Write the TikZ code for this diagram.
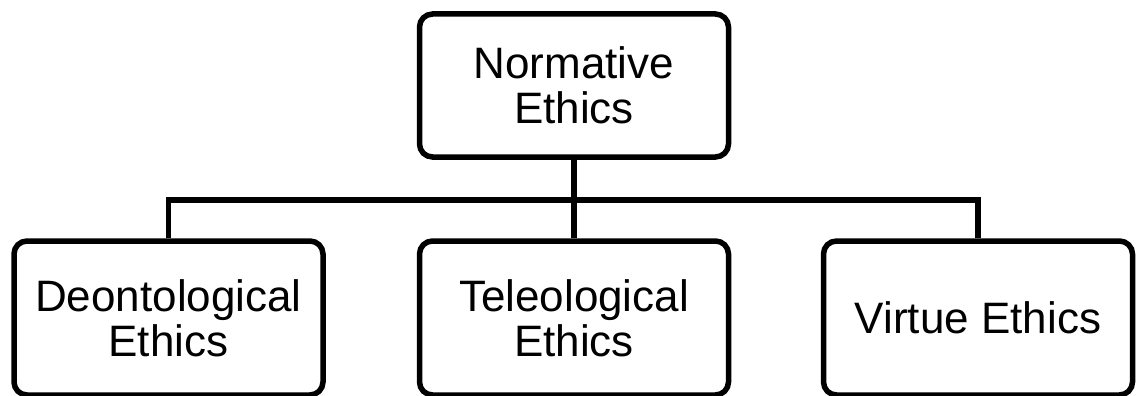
\documentclass[tikz,border=0pt]{standalone}
\usepackage{fontspec}
\setmainfont{Liberation Sans}
\begin{document}
\begin{tikzpicture}[x=1pt,y=-1pt,
  box/.style={draw, line width=5.5pt, rounded corners=13pt, inner sep=0pt, align=center,
    font=\fontsize{44}{45}\selectfont, minimum width=309pt},
  conn/.style={line width=5.5pt}]
\useasboundingbox (0,0) rectangle (1136,396);
\node[box, minimum height=143pt] (top) at (574,85.5) {Normative\\Ethics};
\node[box, minimum height=154pt] (deon) at (168.5,318) {Deontological\\Ethics};
\node[box, minimum height=154pt] (tele) at (574,318) {Teleological\\Ethics};
\node[box, minimum height=154pt] (virt) at (978,318) {Virtue Ethics};
\coordinate (bar) at (574,200);
\draw[conn] (top.south) -- (tele.north);
\draw[conn] (deon.north) |- (bar) -| (virt.north);
\end{tikzpicture}
\end{document}
